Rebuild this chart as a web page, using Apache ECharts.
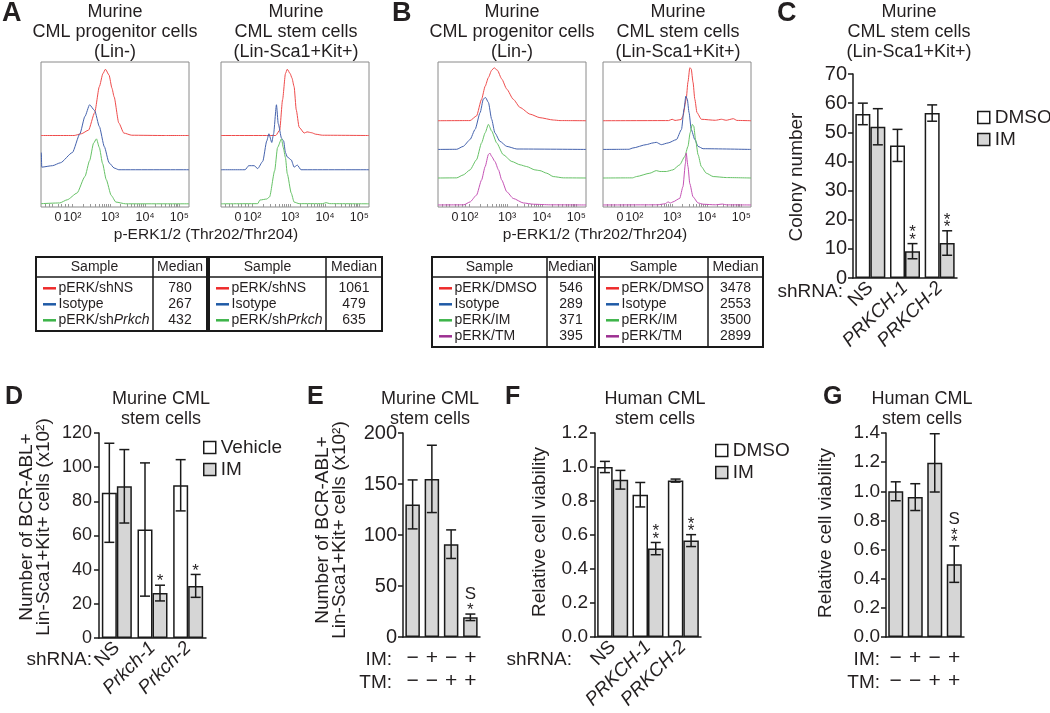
<!DOCTYPE html>
<html><head><meta charset="utf-8">
<script src="https://cdn.jsdelivr.net/npm/echarts@6/dist/echarts.min.js"></script>
<style>html,body{margin:0;padding:0;background:#fff}#c{width:1050px;height:713px}</style>
</head><body><div id="c"></div>
<script>
// ---------- Flow histogram data (x = display position on the biexponential axis, y = event height) ----------
const flowTickLabels = ['0', '10²', '10³', '10⁴', '10⁵'];
const flowTickPos = [1.55, 1.95, 3.0, 3.97, 4.92];

const aLeftRed = [[1.08,0.3],[2.0,0.3],[2.2,1.5],[2.4,4],[2.57,16],[2.7,34],[2.8,43],[2.87,46],[2.97,42],[3.05,33],[3.11,27],[3.24,9],[3.38,2],[3.6,0.5],[4.5,0.3],[5.19,0.3]];
const aLeftBlue = [[1.09,12],[1.1,2],[1.4,3],[1.62,5],[1.95,12],[2.16,25],[2.3,37],[2.43,45],[2.57,41],[2.7,30],[2.84,16],[2.97,5],[3.11,1.4],[3.24,0.2],[5.19,0.2]];
const aLeftGreen = [[1.08,0.3],[1.6,0.8],[1.81,3],[2.08,7.6],[2.3,19],[2.43,30],[2.54,42],[2.62,45],[2.7,39],[2.79,28],[2.89,17],[3.03,6],[3.16,1.4],[3.43,0.2],[5.19,0.2]];

const aRightRed = [[1.08,0.3],[2.6,0.3],[2.71,4],[2.79,25],[2.87,43],[2.92,46],[3.0,43],[3.05,40],[3.11,34],[3.17,18],[3.25,6],[3.39,2],[3.47,2.8],[3.6,2.2],[3.71,1.2],[3.9,0.5],[5.19,0.3]];
const aRightBlue = [[1.08,0.2],[1.75,0.2],[1.85,3],[2.0,3],[2.1,1],[2.24,6],[2.35,20],[2.41,25],[2.49,19],[2.54,25],[2.62,45],[2.67,32],[2.76,22],[2.82,20],[2.87,12],[2.92,9],[3.03,7],[3.11,2],[3.2,3.4],[3.3,0.2],[5.19,0.2]];
const aRightGreen = [[1.08,0.2],[2.1,0.3],[2.16,2.8],[2.35,3.5],[2.43,5],[2.57,23],[2.65,39],[2.76,45],[2.81,39],[2.87,32],[2.92,21],[3.03,7.6],[3.11,1.4],[3.25,0.3],[3.9,0.3],[4.0,1],[4.1,0.3],[5.19,0.2]];

const bLeftRed = [[1.08,0.2],[1.97,0.3],[2.15,3.5],[2.29,15],[2.39,24],[2.48,30],[2.57,35],[2.64,36.7],[2.73,35],[2.85,29],[2.99,22],[3.17,15],[3.36,9.3],[3.64,4.7],[3.91,2.3],[4.28,0.7],[4.47,0.3],[5.19,0.2]];
const bLeftBlue = [[1.08,0.2],[1.6,0.3],[1.78,2.3],[1.97,7],[2.11,14],[2.25,25.6],[2.34,35],[2.4,36],[2.48,32.6],[2.57,21],[2.66,11.6],[2.8,5.8],[2.99,2.3],[3.27,0.5],[5.19,0.2]];
const bLeftGreen = [[1.08,0.2],[1.6,0.3],[1.78,2.3],[1.97,5.8],[2.15,12.8],[2.29,24.4],[2.39,31.4],[2.48,37.2],[2.57,32.6],[2.71,24.4],[2.89,16.3],[3.13,11.6],[3.36,9.3],[3.54,8.1],[3.77,5.8],[3.91,5.3],[4.1,3.5],[4.28,1.2],[4.56,0.3],[5.19,0.2]];
const bLeftMagenta = [[1.08,0.2],[1.8,0.3],[1.97,2.3],[2.15,7],[2.29,17.4],[2.39,26.7],[2.48,35],[2.52,36],[2.57,33.7],[2.66,30.2],[2.76,24.4],[2.85,17.4],[2.99,9.3],[3.17,4.7],[3.45,1.6],[3.73,0.7],[4.2,0.3],[5.19,0.2]];

const bRightRed = [[1.08,0.2],[2.9,0.3],[3.0,1.2],[3.08,0.4],[3.25,1],[3.3,3.5],[3.39,15],[3.44,27],[3.49,36.7],[3.53,36],[3.58,26.7],[3.63,15],[3.69,5.8],[3.81,1.2],[4.2,0.5],[4.37,1.2],[4.5,0.5],[4.7,1.6],[4.8,0.4],[5.19,0.2]];
const bRightBlue = [[1.08,0.2],[1.8,0.3],[1.91,1.2],[2.28,3.5],[2.47,4.7],[2.56,5.1],[2.7,3.5],[2.89,4.7],[3.12,7],[3.26,14],[3.33,28],[3.38,37],[3.42,35],[3.47,25.6],[3.53,14],[3.63,7],[3.72,2.3],[3.86,0.7],[5.19,0.2]];
const bRightGreen = [[1.08,0.2],[1.9,0.3],[2.01,1.2],[2.38,3.5],[2.56,5.3],[2.66,4.7],[2.84,4.7],[3.02,5.8],[3.21,9.3],[3.35,15],[3.44,22],[3.5,31.4],[3.56,37.2],[3.6,36],[3.65,26.7],[3.72,16.3],[3.81,8.1],[3.95,3.5],[4.14,1.2],[4.51,0.5],[5.19,0.2]];
const bRightMagenta = [[1.08,0.2],[2.6,0.3],[2.8,1],[2.89,2.3],[2.95,1.5],[3.02,2.3],[3.21,4.7],[3.3,12.8],[3.37,29],[3.39,36],[3.44,26.7],[3.49,15],[3.58,5.8],[3.72,1.6],[3.86,0.7],[4.2,0.3],[4.4,0.8],[4.5,0.3],[5.19,0.2]];

// stacking offsets of the overlaid histograms (red, blue, green, magenta)
const aOffsets = [49, 25.5, 2];
const bOffsets = [59.3, 39.5, 19.8, 1.2];

// ---------- Median tables ----------
const tableASamples = ['pERK/shNS', 'Isotype', 'pERK/sh{i|Prkch}'];
const tableALeftMedians = [780, 267, 432];
const tableARightMedians = [1061, 479, 635];
const tableBSamples = ['pERK/DMSO', 'Isotype', 'pERK/IM', 'pERK/TM'];
const tableBLeftMedians = [546, 289, 371, 395];
const tableBRightMedians = [3478, 2553, 3500, 2899];

// ---------- Bar chart data ----------
const cCats = ['NS', 'PRKCH-1', 'PRKCH-2'];
const cDmso = [56.3, 45.5, 56.6];
const cDmsoErr = [3.7, 5.5, 2.8];
const cIm = [51.9, 9.2, 12.0];
const cImErr = [6.2, 2.6, 4.2];
const cImSig = ['', '**', '**'];

const dCats = ['NS', 'Prkch-1', 'Prkch-2'];
const dVehicle = [85.0, 63.5, 89.4];
const dVehicleErr = [29, 39, 15];
const dIm = [88.8, 26.3, 30.5];
const dImErr = [21.5, 4.6, 6.7];
const dImSig = ['', '*', '*'];

const imSigns = ['−', '+', '−', '+'];
const tmSigns = ['−', '−', '+', '+'];

const eValues = [130, 155, 91, 19.3];
const eErr = [24, 33, 14, 3.2];
const eSig = ['', '', '', 'S*'];

const fCats = ['NS', 'PRKCH-1', 'PRKCH-2'];
const fDmso = [1.0, 0.837, 0.92];
const fDmsoErr = [0.033, 0.072, 0.009];
const fIm = [0.925, 0.52, 0.567];
const fImErr = [0.055, 0.036, 0.035];
const fImSig = ['', '**', '**'];

const gValues = [1.0, 0.96, 1.195, 0.5];
const gErr = [0.065, 0.092, 0.2, 0.125];
const gSig = ['', '', '', 'S**'];

// ---------- build ----------
const FONT = "'Liberation Sans', Arial, Helvetica, sans-serif";
const INK = '#1a1a1a', TXT = '#231f20';
const HIST_COLORS = ['#ef4b4b', '#4462ad', '#66c266', '#c552b5'];
const LEG_COLORS = ['#ee2a2a', '#1f5aa6', '#3db449', '#9c2f91'];
const WHITE = '#ffffff', GREY = '#d6d6d6';

const grids = [], xAxes = [], yAxes = [], series = [], graphics = [];

const minorTicks = [1.2, 1.3, 1.4, 1.55, 1.65, 1.75, 1.85];
for (let d = 1; d < flowTickPos.length - 1; d++) {
  const p = flowTickPos[d], q = flowTickPos[d + 1];
  for (let k = 1; k <= 9; k++) minorTicks.push(p + Math.log10(k) * (q - p));
}
minorTicks.push(flowTickPos[4]);
for (let k = 2; k <= 3; k++) minorTicks.push(flowTickPos[4] + Math.log10(k) * (flowTickPos[4] - flowTickPos[3]));

function flowLabel(v) {
  let best = 0;
  flowTickPos.forEach((p, i) => { if (Math.abs(p - v) < Math.abs(flowTickPos[best] - v)) best = i; });
  return flowTickLabels[best];
}

function addHist(left, curves, offsets) {
  const g = grids.length;
  grids.push({left: left, top: 62, width: 148, height: 145, show: true, borderColor: '#8a8a8a', borderWidth: 1, backgroundColor: 'transparent'});
  xAxes.push({type: 'value', gridIndex: g, min: 1.08, max: 5.19,
    axisLine: {show: false}, splitLine: {show: false},
    axisTick: {show: true, inside: true, length: 3, customValues: minorTicks, lineStyle: {color: '#999', width: 1}},
    axisLabel: {show: true, customValues: flowTickPos, formatter: flowLabel, fontSize: 12.5, color: TXT, margin: 4, fontFamily: FONT}});
  yAxes.push({type: 'value', gridIndex: g, min: 0, max: 100, show: false});
  curves.forEach((c, k) => series.push({
    type: 'line', xAxisIndex: g, yAxisIndex: g, silent: true,
    data: c.map(p => [p[0], p[1] + offsets[k]]),
    showSymbol: false, symbol: 'none', smooth: 0.2, smoothMonotone: 'x',
    lineStyle: {color: HIST_COLORS[k], width: 1}
  }));
}

addHist(41, [aLeftRed, aLeftBlue, aLeftGreen], aOffsets);
addHist(221, [aRightRed, aRightBlue, aRightGreen], aOffsets);
addHist(438, [bLeftRed, bLeftBlue, bLeftGreen, bLeftMagenta], bOffsets);
addHist(603, [bRightRed, bRightBlue, bRightGreen, bRightMagenta], bOffsets);

function errSeries(g, values, errs, shift, sig) {
  return {
    type: 'custom', xAxisIndex: g, yAxisIndex: g, z: 5, silent: true,
    data: values.map((m, i) => [i, m, errs[i]]),
    renderItem: function (params, api) {
      const i = api.value(0), m = api.value(1), e = api.value(2);
      const t = api.coord([i, m + e]), b = api.coord([i, m - e]);
      const x = t[0] + shift;
      const st = {stroke: INK, lineWidth: 1.5};
      const ch = [
        {type: 'line', shape: {x1: x, y1: t[1], x2: x, y2: b[1]}, style: st},
        {type: 'line', shape: {x1: x - 5, y1: t[1], x2: x + 5, y2: t[1]}, style: st},
        {type: 'line', shape: {x1: x - 5, y1: b[1], x2: x + 5, y2: b[1]}, style: st}
      ];
      const s = sig[params.dataIndex] || '';
      let off = 7.5;
      for (let k = s.length - 1; k >= 0; k--) {
        const c = s[k];
        if (c === '*') {
          ch.push({type: 'text', x: x, y: t[1] - off + 4, style: {text: '*', fontSize: 17, fontFamily: FONT, fill: TXT, align: 'center', verticalAlign: 'middle'}});
          off += 7.3;
        } else {
          off += 4.5;
          ch.push({type: 'text', x: x, y: t[1] - off, style: {text: c, fontSize: 17, fontFamily: FONT, fill: TXT, align: 'center', verticalAlign: 'middle'}});
          off += 10;
        }
      }
      return {type: 'group', children: ch};
    }
  };
}

function addBar(cfg) {
  const g = grids.length;
  grids.push({left: cfg.left, top: cfg.top, width: cfg.width, height: cfg.height});
  xAxes.push({type: 'category', gridIndex: g, data: cfg.cats,
    axisLine: {show: true, lineStyle: {color: INK, width: 1.5}}, axisTick: {show: false},
    axisLabel: Object.assign({interval: 0, color: TXT, fontFamily: FONT}, cfg.xLabel)});
  yAxes.push({type: 'value', gridIndex: g, min: 0, max: cfg.max, interval: cfg.interval,
    axisLine: {show: true, lineStyle: {color: INK, width: 1.5}},
    axisTick: {show: true, length: 5, lineStyle: {color: INK, width: 1.5}},
    splitLine: {show: false},
    axisLabel: {fontSize: cfg.fs, color: TXT, margin: cfg.margin, fontFamily: FONT, formatter: cfg.fmt}});
  const n = cfg.groups.length;
  cfg.groups.forEach((s, k) => {
    series.push({type: 'bar', name: s.name, xAxisIndex: g, yAxisIndex: g, data: s.values, silent: true,
      barWidth: cfg.barWidth, barGap: '0%',
      itemStyle: {color: s.color, borderColor: INK, borderWidth: 1.5}});
    const shift = n === 1 ? 0 : (k === 0 ? -cfg.barWidth / 2 : cfg.barWidth / 2);
    series.push(errSeries(g, s.values, s.errs, shift, s.sig || []));
  });
}

const italicCats = cats => cats.map(c => c === 'NS' ? c : {value: c, textStyle: {fontStyle: 'italic'}});
const rotLabel = {rotate: 45, fontSize: 19, margin: 7};
const signLabel = {fontSize: 21, lineHeight: 23, margin: 10};
const fix1 = v => v.toFixed(1);

addBar({left: 853, top: 74, width: 104, height: 204, cats: italicCats(cCats), xLabel: rotLabel,
  max: 70, interval: 10, fs: 20, margin: 6, barWidth: 15,
  groups: [{name: 'DMSO', values: cDmso, errs: cDmsoErr, color: WHITE},
           {name: 'IM', values: cIm, errs: cImErr, color: GREY, sig: cImSig}]});
addBar({left: 99, top: 433, width: 107, height: 205, cats: italicCats(dCats), xLabel: rotLabel,
  max: 120, interval: 20, fs: 18, margin: 7, barWidth: 15,
  groups: [{name: 'Vehicle', values: dVehicle, errs: dVehicleErr, color: WHITE},
           {name: 'IM', values: dIm, errs: dImErr, color: GREY, sig: dImSig}]});
addBar({left: 403, top: 433, width: 77, height: 204, cats: imSigns.map((s, i) => s + '\n' + tmSigns[i]), xLabel: signLabel,
  max: 200, interval: 50, fs: 20, margin: 6, barWidth: 14.5,
  groups: [{name: 'E', values: eValues, errs: eErr, color: GREY, sig: eSig}]});
addBar({left: 595, top: 433, width: 106, height: 204, cats: italicCats(fCats), xLabel: rotLabel,
  max: 1.2, interval: 0.2, fs: 19, margin: 7, barWidth: 15.5, fmt: fix1,
  groups: [{name: 'DMSO', values: fDmso, errs: fDmsoErr, color: WHITE},
           {name: 'IM', values: fIm, errs: fImErr, color: GREY, sig: fImSig}]});
addBar({left: 886, top: 433, width: 78, height: 204, cats: imSigns.map((s, i) => s + '\n' + tmSigns[i]), xLabel: signLabel,
  max: 1.4, interval: 0.2, fs: 19, margin: 6, barWidth: 15, fmt: fix1,
  groups: [{name: 'G', values: gValues, errs: gErr, color: GREY, sig: gSig}]});

// ---------- legends ----------
function legend(left, top, names, colors) {
  return {left: left, top: top, orient: 'vertical', padding: 0, itemWidth: 12, itemHeight: 12, itemGap: 3,
    selectedMode: false, icon: 'rect',
    textStyle: {fontSize: 19, color: TXT, fontFamily: FONT},
    data: names.map((n, i) => ({name: n, itemStyle: {color: colors[i], borderColor: INK, borderWidth: 1.5}}))};
}
const legends = [
  legend(977, 108, ['DMSO', 'IM'], [WHITE, GREY]),
  legend(203, 438, ['Vehicle', 'IM'], [WHITE, GREY]),
  legend(715, 441, ['DMSO', 'IM'], [WHITE, GREY])
];

// ---------- texts ----------
function T(x, y, text, o) {
  o = o || {};
  const style = {text: text, fontSize: o.fontSize || 18, fontFamily: FONT, fontWeight: o.fontWeight || 'normal',
    fill: o.fill || TXT, align: o.align || 'center', verticalAlign: o.verticalAlign || 'middle'};
  if (o.lineHeight) style.lineHeight = o.lineHeight;
  if (o.rich) style.rich = o.rich;
  const el = {type: 'text', x: x, y: y, style: style, silent: true};
  if (o.rotation) el.rotation = o.rotation;
  graphics.push(el);
}
const title = {fontSize: 18, lineHeight: 20, verticalAlign: 'top'};
const bold = s => ({fontSize: s, fontWeight: 'bold', align: 'left', verticalAlign: 'top'});

T(2, 0, 'A', bold(27)); T(392, 0, 'B', bold(27)); T(777, 0, 'C', bold(27));
T(5, 385, 'D', bold(25)); T(307, 385, 'E', bold(25)); T(505, 385, 'F', bold(25)); T(823, 385, 'G', bold(25));

T(115, 2, 'Murine\nCML progenitor cells\n(Lin-)', title);
T(296, 2, 'Murine\nCML stem cells\n(Lin-Sca1+Kit+)', title);
T(512, 2, 'Murine\nCML progenitor cells\n(Lin-)', title);
T(678, 2, 'Murine\nCML stem cells\n(Lin-Sca1+Kit+)', title);
T(909, 2, 'Murine\nCML stem cells\n(Lin-Sca1+Kit+)', title);
T(161, 389, 'Murine CML\nstem cells', title);
T(430, 389, 'Murine CML\nstem cells', title);
T(655, 389, 'Human CML\nstem cells', title);
T(922, 389, 'Human CML\nstem cells', title);

T(206, 235, 'p-ERK1/2 (Thr202/Thr204)', {fontSize: 15.5});
T(595, 235, 'p-ERK1/2 (Thr202/Thr204)', {fontSize: 15.5});

const ROT = Math.PI / 2;
T(797, 177, 'Colony number', {fontSize: 19, rotation: ROT});
T(35, 527, 'Number of BCR-ABL+\nLin-Sca1+Kit+ cells (x10²)', {fontSize: 19, lineHeight: 17, rotation: ROT});
T(331, 530, 'Number of BCR-ABL+\nLin-Sca1+Kit+ cells (x10²)', {fontSize: 19, lineHeight: 17, rotation: ROT});
T(540, 532, 'Relative cell viability', {fontSize: 19, rotation: ROT});
T(826, 533, 'Relative cell viability', {fontSize: 19, rotation: ROT});

T(843, 292, 'shRNA:', {fontSize: 19, align: 'right'});
T(92, 660, 'shRNA:', {fontSize: 19, align: 'right'});
T(572, 660, 'shRNA:', {fontSize: 19, align: 'right'});
T(392, 660, 'IM:', {fontSize: 19, align: 'right'});
T(392, 683, 'TM:', {fontSize: 19, align: 'right'});
T(880, 660, 'IM:', {fontSize: 19, align: 'right'});
T(880, 683, 'TM:', {fontSize: 19, align: 'right'});

// tables
function table(x0, x1, xd, y0, y1, names, meds) {
  const yh = y0 + 20;
  graphics.push({type: 'rect', shape: {x: x0, y: y0, width: x1 - x0, height: y1 - y0}, style: {fill: 'none', stroke: INK, lineWidth: 2}, silent: true});
  graphics.push({type: 'line', shape: {x1: xd, y1: y0, x2: xd, y2: y1}, style: {stroke: INK, lineWidth: 1.5}, silent: true});
  graphics.push({type: 'line', shape: {x1: x0, y1: yh, x2: x1, y2: yh}, style: {stroke: INK, lineWidth: 1.5}, silent: true});
  T((x0 + xd) / 2, (y0 + yh) / 2 + 0.5, 'Sample', {fontSize: 14});
  T((xd + x1) / 2, (y0 + yh) / 2 + 0.5, 'Median', {fontSize: 14});
  names.forEach((n, r) => {
    const y = yh + 11.3 + 16 * r;
    graphics.push({type: 'line', shape: {x1: x0 + 7, y1: y, x2: x0 + 20, y2: y}, style: {stroke: LEG_COLORS[r], lineWidth: 2.5}, silent: true});
    T(x0 + 22.5, y, n, {fontSize: 14, align: 'left', rich: {i: {fontStyle: 'italic', fontSize: 14, fontFamily: FONT, fill: TXT}}});
    T((xd + x1) / 2, y, String(meds[r]), {fontSize: 14});
  });
}
table(36, 207, 153, 257, 331, tableASamples, tableALeftMedians);
table(209, 382, 326, 257, 331, tableASamples, tableARightMedians);
table(432, 595, 547, 257, 347, tableBSamples, tableBLeftMedians);
table(599, 763, 708, 257, 347, tableBSamples, tableBRightMedians);

const chart = echarts.init(document.getElementById('c'), null, {renderer: 'canvas', width: 1050, height: 713});
chart.setOption({
  animation: false,
  backgroundColor: '#ffffff',
  textStyle: {fontFamily: FONT},
  grid: grids, xAxis: xAxes, yAxis: yAxes, series: series,
  legend: legends,
  graphic: {elements: graphics}
});
</script></body></html>
